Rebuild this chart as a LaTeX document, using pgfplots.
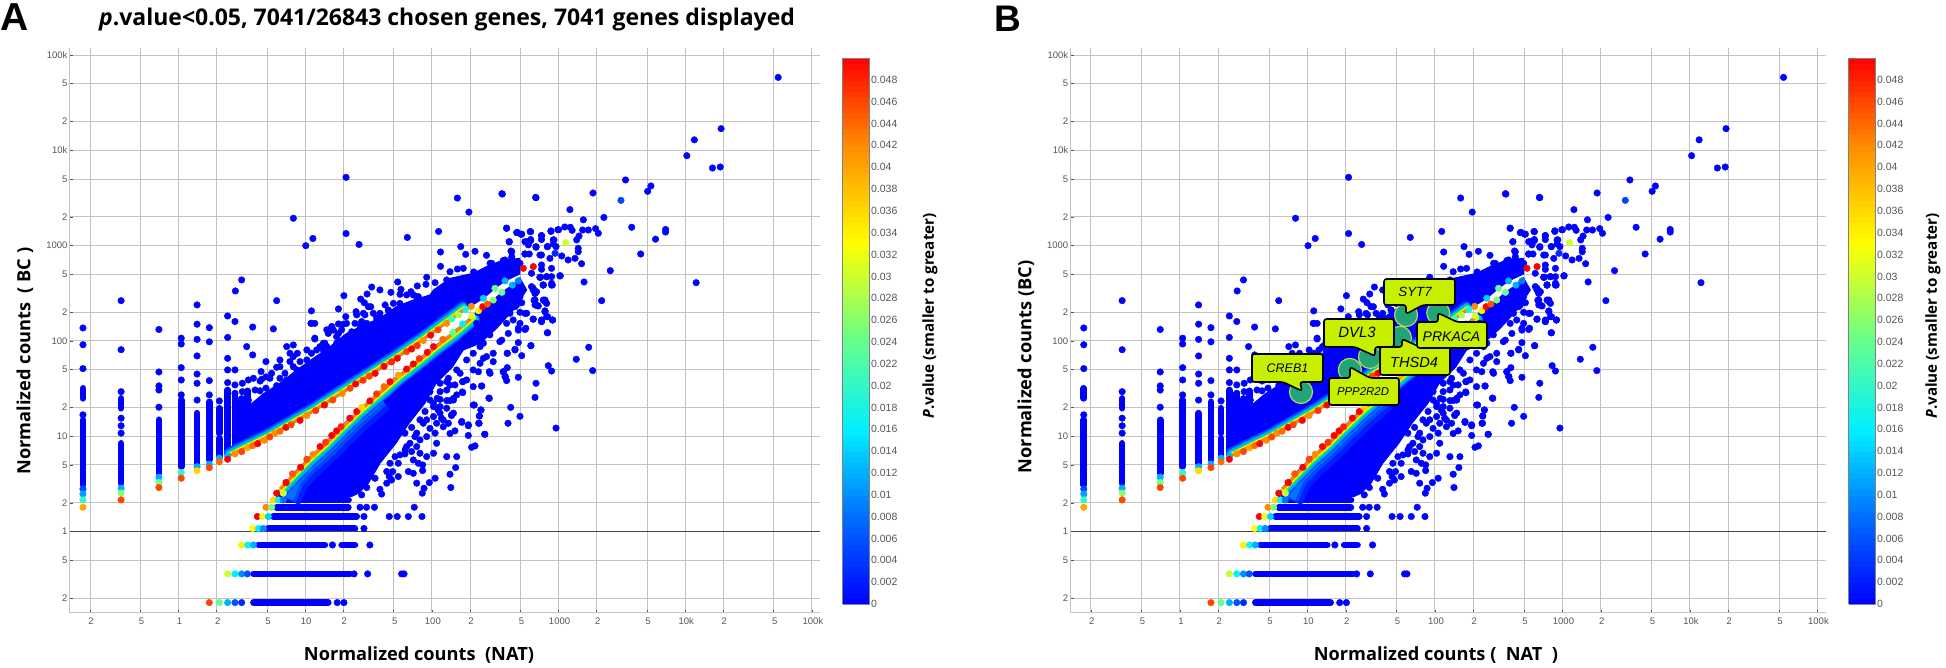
\documentclass[border=0pt]{standalone}
\usepackage{fontspec}
\usepackage{pgfplots}
\usepackage{pgfplotstable}
\pgfplotsset{compat=1.18}
\setmainfont{Liberation Sans}
\newfontfamily\tfont{Open Sans}
\definecolor{gridc}{RGB}{195,195,195}
\definecolor{tickc}{RGB}{85,85,85}
\definecolor{callc}{RGB}{198,240,0}
\definecolor{tealc}{RGB}{32,165,120}
\definecolor{tealb}{RGB}{190,215,80}
\pgfplotstableread{
x y p
54200 58300 0.0003
19200 16900 0.0003
11800 12900 0.0003
10300 8790 0.0003
16400 6530 0.0003
18900 6690 0.0003
3380 4890 0.0003
5360 4230 0.0003
5050 3720 0.0003
1870 3570 0.0003
3110 2990 0.005
664 3190 0.0003
360 3480 0.0003
1230 2390 0.0003
2280 1980 0.0003
1570 1870 0.0003
3780 1560 0.0003
7000 1480 0.0003
7000 1390 0.0003
5830 1170 0.0003
4450 818 0.0003
2560 547 0.0003
12200 409 0.0003
2190 265 0.0003
1590 416 0.0003
389 1520 0.0003
467 1370 0.0003
512 1320 0.0003
602 1400 0.0003
871 1430 0.0003
1000 1470 0.0003
1120 1570 0.0003
1240 1560 0.0003
1280 1450 0.0003
1550 1460 0.0003
1720 1460 0.0003
1960 1510 0.0003
2060 1350 0.0003
1450 1260 0.0003
1390 1150 0.0003
734 1280 0.0003
734 1160 0.0003
602 1160 0.0003
408 1100 0.0003
543 1100 0.0003
577 1020 0.0003
908 1150 0.0003
908 1040 0.0003
664 977 0.0003
1430 938 0.0003
1430 865 0.0003
820 977 0.0003
427 865 0.0003
543 818 0.0003
587 818 0.0003
734 798 0.0003
938 832 0.003
1060 780 0.0003
1190 708 0.0003
1350 736 0.0003
1520 647 0.0003
855 736 0.0003
734 627 0.0003
496 653 0.0003
427 719 0.0003
378 708 0.0003
881 578 0.0003
734 565 0.0003
612 513 0.0003
1030 484 0.0003
881 473 0.0003
721 466 0.0003
757 387 0.0003
893 387 0.0003
631 343 0.0003
652 316 0.0003
496 292 0.0003
512 252 0.0003
643 265 0.0003
782 259 0.0003
692 233 0.0003
782 203 0.0003
820 180 0.0003
897 166 0.0003
734 160 0.0003
631 169 0.0003
543 195 0.0003
481 136 0.0003
552 136 0.0003
820 122 0.0003
605 89.3 0.0003
1730 85.9 0.0003
1380 64.3 0.0003
830 55.1 0.0003
881 48.4 0.0003
1860 48.9 0.0003
664 36 0.0003
652 25.6 0.0003
481 41.6 0.0003
419 20.1 0.0003
496 16.2 0.0003
399 13.7 0.0003
955 12.2 0.0003
394 52.5 0.0003
366 47.6 0.0003
380 42.3 0.0003
389 38.4 0.0003
512 70.1 0.0003
453 80.5 0.0003
394 74.3 0.0003
481 96.2 0.0003
247 33.7 0.0003
282 25.2 0.0003
216 21.3 0.0003
244 18.9 0.0003
237 16.3 0.0003
234 13.7 0.0003
261 10.5 0.0003
194 10.2 0.0003
194 13.2 0.0003
172 14 0.0003
143 16.5 0.0003
139 10.7 0.0003
152 11.4 0.0003
119 15.5 0.0003
112 18.9 0.0003
139 23.7 0.0003
148 25 0.0003
116 24.4 0.0003
174 29.2 0.0003
139 34.5 0.0003
131 37.4 0.0003
175 37.4 0.0003
233 47.6 0.0003
284 47.6 0.0003
366 47.6 0.0003
378 42.3 0.0003
305 60.7 0.0003
255 65.8 0.0003
394 74.3 0.0003
453 81.8 0.0003
344 98.4 0.0003
401 120 0.0003
356 102 0.0003
543 132 0.0003
481 130 0.0003
287 116 0.0003
225 153 0.0003
270 147 0.0003
344 180 0.0003
413 195 0.0003
734 160 0.0003
453 229 0.0003
652 239 0.0003
757 269 0.0003
805 248 0.0003
652 269 0.0003
671 329 0.0003
612 372 0.0003
757 386 0.0003
881 403 0.0003
713 466 0.0003
805 473 0.0003
21 5210 0.0003
159 3160 0.0003
357 3510 0.0003
659 3210 0.0003
196 2250 0.0003
10.1 1000 0.0003
11.5 1190 0.0003
21 1340 0.0003
26.6 1030 0.0003
64 1220 0.0003
113 1410 0.0003
117 858 0.0003
169 977 0.0003
185 811 0.0003
219 873 0.0003
270 792 0.0003
117 607 0.0003
389 1530 0.0003
408 1100 0.0003
472 1380 0.0003
505 1320 0.0003
598 1410 0.0003
734 1270 0.0003
871 1410 0.0003
989 1470 0.0003
560 1100 0.0003
602 1130 0.0003
664 962 0.0003
815 977 0.0003
920 1150 0.0003
955 977 0.0003
421 879 0.0003
543 818 0.0003
713 798 0.0003
366 697 0.0003
427 767 0.0003
288 653 0.0003
344 578 0.0003
1026 481 0.0003
881 386 0.0003
757 387 0.0003
631 357 0.0003
652 316 0.0003
805 473 0.0003
713 466 0.0003
782 269 0.0003
643 269 0.0003
679 235 0.0003
782 207 0.0003
805 180 0.0003
897 166 0.0003
631 170 0.0003
734 166 0.0003
815 122 0.0003
496 304 0.0003
467 239 0.0003
496 200 0.0003
560 195 0.0003
438 166 0.0003
496 153 0.0003
389 153 0.0003
344 173 0.0003
605 89.3 0.0003
33.5 368 0.0003
38.9 343 0.0003
53.7 416 0.0003
57 348 0.0003
47.5 324 0.0003
56 309 0.0003
68.4 329 0.0003
76.7 378 0.0003
91 466 0.0003
89.8 393 0.0003
106 409 0.0003
131 437 0.0003
139 533 0.0003
159 569 0.0003
177 578 0.0003
214 530 0.0003
255 513 0.0003
297 653 0.0003
20.2 299 0.0003
30.8 311 0.0003
27.4 275 0.0003
29.3 252 0.0003
32.9 229 0.0003
18.3 217 0.0003
11.2 207 0.0003
25.2 203 0.0003
20.9 180 0.0003
28.8 195 0.0003
38.5 180 0.0003
11.2 153 0.0003
18.3 151 0.0003
16.7 130 0.0003
20 150 0.0003
27.4 147 0.0003
30.6 153 0.0003
22.6 111 0.0003
17.7 111 0.0003
11.9 107 0.0003
14.3 94.6 0.0003
20 92.3 0.0003
45.3 211 0.0003
56 244 0.0003
68.4 229 0.0003
75.9 292 0.0003
88.3 259 0.0003
8.06 1940 0.0003
3.15 437 0.0003
2.81 335 0.0003
5.95 265 0.0003
3.85 140 0.0003
5.6 134 0.0003
11.1 153 0.0003
11.9 153 0.0003
16.5 131 0.0003
3.45 87.3 0.0003
3.85 71.4 0.0003
5.95 53 0.0003
4.48 47.8 0.0003
4.9 60.8 0.0003
4.53 39.6 0.0003
5.27 40.6 0.0003
3.9 40.6 0.0003
3.56 39 0.0003
3.19 36 0.0003
2.79 34.6 0.0003
2.79 28.2 0.0003
3.19 29.4 0.0003
7.14 87.3 0.0003
8.05 90.8 0.0003
7.58 74.3 0.0003
8.67 74.3 0.0003
11.2 74.3 0.0003
7.58 60.8 0.0003
10.3 63.2 0.0003
11.9 105 0.0003
13.9 94.7 0.0003
14.8 87.3 0.0003
20 94.7 0.0003
22.6 94.7 0.0003
6.32 40.6 0.0003
7.14 39 0.0003
8.58 49.7 0.0003
14.8 131 0.0003
18.3 120 0.0003
21.2 153 0.0003
25.5 188 0.0003
27.9 160 0.0003
31.5 229 0.0003
36.6 173 0.0003
45.3 211 0.0003
56 248 0.0003
78.2 292 0.0003
91 259 0.0003
8.05 68.6 0.0003
10.3 80.5 0.0003
13.9 80.5 0.0003
6.32 53.8 0.0003
5.43 45.8 0.0003
4.02 30.6 0.0003
3.56 24 0.0003
4.4 30 0.0003
4.4 38 0.0003
4.9 32 0.0003
4.9 42 0.0003
5.95 34 0.0003
6.32 63.2 0.0003
6.92 45.8 0.0003
8.05 53.8 0.0003
9.1 60.8 0.0003
10.9 56 0.0003
12.3 80.5 0.0003
13.1 87.3 0.0003
15.2 120 0.0003
16.2 142 0.0003
17.7 94.6 0.0003
19.4 131 0.0003
23.3 125 0.0003
24.7 153 0.0003
27.1 136 0.0003
29.6 188 0.0003
34.5 195 0.0003
38.9 195 0.0003
42.7 239 0.0003
49.7 248 0.0003
63.2 304 0.0003
71.3 304 0.0003
84 2.53 0.0003
86.7 2.85 0.0003
75.9 3.22 0.0003
95.5 3.27 0.0003
106 3.63 0.0003
141 2.9 0.0003
139 4 0.0003
154 4.7 0.0003
131 6.12 0.0003
157 6.12 0.0003
84.5 5.01 0.0003
84.5 4.37 0.0003
91 6.12 0.0003
71.3 5.65 0.0003
61.3 6.53 0.0003
51.2 6.12 0.0003
54.3 5.21 0.0003
49 4.27 0.0003
44 4.27 0.0003
40.1 2.48 0.0003
38.9 2.78 0.0003
35.6 3.63 0.0003
30.6 2.9 0.0003
27.9 2.43 0.0003
46.1 3.78 0.0003
63.2 7.8 0.0003
75.9 7.8 0.0003
75.9 10.8 0.0003
91 9.93 0.0003
106 10.8 0.0003
123 12.6 0.0003
143 16.8 0.0003
172 14.3 0.0003
194 12.9 0.0003
212 21.3 0.0003
244 18.9 0.0003
237 16.4 0.0003
236 13.7 0.0003
262 10.5 0.0003
206 7.67 0.0003
219 7.94 0.0003
284 25 0.0003
247 33.7 0.0003
175 28.7 0.0003
148 24 0.0003
131 23.7 0.0003
175 37.5 0.0003
135 40.6 0.0003
152 34.6 0.0003
110 25 0.0003
116 29.4 0.0003
103 20.5 0.0003
103 16.1 0.0003
123 14.8 0.0003
135 13.7 0.0003
61.3 10.8 0.0003
69.2 12.4 0.0003
80.5 14.9 0.0003
88.3 18.2 0.0003
75.9 22.2 0.0003
96.6 24 0.0003
49.6 9.17 0.0003
52.7 11.2 0.0003
41.4 7.8 0.0003
36.6 5.65 0.0003
46.7 5.21 0.0003
56 6.38 0.0003
67.1 8.45 0.0003
73.5 9.93 0.0003
85.5 13.7 0.0003
103 22.2 0.0003
116 36 0.0003
157 49.7 0.0003
188 63.2 0.0003
212 74.3 0.0003
240 87.3 0.0003
44 3.22 0.0003
32.4 3.78 0.0003
48.1 3.48 0.0003
54.3 3.78 0.0003
65.2 4.27 0.0003
71.3 4.09 0.0003
78.2 5.21 0.0003
61.4 7.2 0.0003
69.2 6.92 0.0003
80.5 6.64 0.0003
103 6.64 0.0003
109 8.45 0.0003
80.5 9.16 0.0003
96.6 12.1 0.0003
109 13.7 0.0003
91 14.9 0.0003
116 17.5 0.0003
131 19.7 0.0003
148 17.5 0.0003
116 20.5 0.0003
96.6 29.4 0.0003
131 30.6 0.0003
157 27.2 0.0003
167 45.8 0.0003
188 39 0.0003
212 49.7 0.0003
212 33.2 0.0003
240 58.3 0.0003
270 68.6 0.0003
288 45.8 0.0003
255 94.7 0.0003
305 74.3 0.0003
0.176 137 0.0003
0.176 91.3 0.0003
0.176 51.3 0.0003
0.176 16.8 0.0003
0.176 2.8 0.005
0.176 2.48 0.011
0.176 2.15 0.02
0.176 1.80 0.04
0.352 265 0.0003
0.352 81 0.0003
0.352 29.4 0.0003
0.352 15.5 0.0003
0.352 12.9 0.0003
0.352 10.8 0.0003
0.352 2.85 0.012
0.352 2.53 0.026
0.352 2.15 0.046
0.70 132 0.0003
0.70 47.3 0.0003
0.70 33.8 0.0003
0.70 30.6 0.0003
0.70 20.2 0.0003
0.70 3.72 0.012
0.70 3.27 0.025
0.70 2.9 0.046
1.05 107 0.0003
1.05 93 0.0003
1.05 52.5 0.0003
1.05 39 0.0003
1.05 27.2 0.0003
1.05 4.16 0.02
1.05 3.63 0.046
1.40 239 0.0003
1.40 150 0.0003
1.40 104 0.0003
1.40 69.7 0.0003
1.40 45 0.0003
1.40 36 0.0003
1.40 24 0.0003
1.40 4.8 0.012
1.40 4.34 0.036
1.75 138 0.0003
1.75 98 0.0003
1.75 38.4 0.0003
1.75 27.2 0.0003
1.75 5.1 0.012
1.75 4.69 0.046
2.1 23.5 0.0003
2.1 5.9 0.012
2.1 5.4 0.044
2.44 183 0.0003
2.44 109 0.0003
2.44 65.8 0.0003
2.44 49.7 0.0003
2.44 36.6 0.0003
2.44 6.2 0.012
2.79 160 0.0003
2.79 49.7 0.0003
1.75 0.18 0.046
2.1 0.18 0.024
2.44 0.18 0.012
2.79 0.18 0.006
3.15 0.18 0.003
17.9 0.18 0.0003
20.2 0.18 0.0003
2.44 0.36 0.03
2.79 0.36 0.016
3.15 0.36 0.01
3.49 0.36 0.006
24.3 0.36 0.0003
31.1 0.36 0.0003
57.7 0.36 0.0003
60.3 0.36 0.0003
3.15 0.724 0.034
3.52 0.724 0.017
3.9 0.724 0.012
16.4 0.724 0.0003
32.4 0.724 0.0003
3.85 1.08 0.033
4.27 1.08 0.016
4.67 1.08 0.01
29.1 1.08 0.0003
4.19 1.44 0.05
4.61 1.44 0.032
5.12 1.44 0.014
29.1 1.44 0.0003
46.1 1.44 0.0003
53.3 1.44 0.0003
65.2 1.44 0.0003
83.5 1.44 0.0003
4.9 1.80 0.042
5.43 1.80 0.025
27.1 1.80 0.0003
30.5 1.80 0.0003
35.2 1.80 0.0003
72.6 1.80 0.0003
5.6 2.15 0.036
6.14 2.15 0.017
6.71 2.15 0.008
7.06 3.27 0.05
7.96 4.03 0.045
6.71 2.53 0.03
}\tblOut
\pgfplotstableread{
x y p
2.44 5.74 0.05
2.79 6.53 0.042
3.15 6.91 0.046
3.52 7.6 0.04
3.85 7.98 0.044
4.22 8.38 0.05
4.76 9.08 0.042
5.25 9.84 0.046
5.78 10.8 0.042
6.32 11.3 0.044
7.05 12.4 0.05
7.73 13.2 0.046
9.1 14.7 0.05
10.3 16.5 0.042
12.1 18.6 0.047
14.2 21.3 0.05
16.5 24 0.046
19.6 28 0.042
22.6 31.9 0.046
25 35.4 0.05
28.6 38.7 0.047
32.1 42.7 0.046
35.7 45.8 0.05
41.9 54.2 0.05
48.1 60.3 0.048
53.3 65.8 0.05
63.2 77.3 0.046
69.2 82.4 0.05
76.7 89.3 0.047
85.6 101 0.042
97.7 115 0.05
112 131 0.046
131 153 0.042
143 170 0.022
162 187 0.028
185 215 0.018
205 231 0.042
255 281 0.014
315 357 0.024
378 427 0.012
527 579 0.05
632 603 0.05
1138 1076 0.03
7.06 3.27 0.05
7.96 4.03 0.045
9.2 4.73 0.05
10.3 5.74 0.046
11.5 6.47 0.042
13.1 7.8 0.05
14.5 8.65 0.047
16.2 10.2 0.05
17.7 11.4 0.05
19.2 12.6 0.048
22.5 15.5 0.05
25.5 18.2 0.05
27.9 20.1 0.036
32.4 23.5 0.05
36.6 27.8 0.047
41.9 33.2 0.044
46.7 37.4 0.05
54.3 44 0.04
63.2 50.8 0.05
71.3 57.4 0.05
79.6 65.3 0.047
92 76 0.05
103 87.3 0.05
122 104 0.044
146 123 0.024
175 151 0.016
207 183 0.03
233 208 0.034
252 229 0.05
274 244 0.045
305 269 0.026
357 324 0.024
432 386 0.012
481 427 0.009
5.95 2.53 0.05
}\tblBand
\pgfplotsset{
 /pgfplots/mySeg/.style={blue,line width=6.6pt,line cap=round,forget plot},
 /pgfplots/myPanel/.style={
  scale only axis, height=565pt,
  xmin=0.139, ymin=0.14, ymax=118600,
  axis x line*=bottom, axis y line*=left,
  axis line style={gridc,line width=1pt,-},
  xtick={0.2,0.5,1,2,5,10,20,50,100,200,500,1000,2000,5000,10000,20000,50000,100000},
  xticklabels={2,5,1,2,5,10,2,5,100,2,5,1000,2,5,10k,2,5,100k},
  ytick={0.2,0.5,1,2,5,10,20,50,100,200,500,1000,2000,5000,10000,20000,50000,100000},
  yticklabels={2,5,1,2,5,10,2,5,100,2,5,1000,2,5,10k,2,5,100k},
  xminorticks=false, yminorticks=false,
  major tick length=3pt,
  tick style={tickc,line width=0.6pt},
  xmajorgrids, ymajorgrids,
  grid style={gridc,line width=1pt},
  tick label style={font=\fontsize{9.5}{12}\selectfont,text=tickc},
  xticklabel style={yshift=-1pt,xshift=1pt},
  yticklabel style={xshift=1pt},
  point meta min=0, point meta max=0.05,
  colorbar sampled,
  colorbar style={
    samples=101,
    at={(parent axis.south east)},anchor=south west,xshift=14pt,yshift=9pt,
    scale only axis,width=27pt,height=546pt,
    axis line style={gray,line width=0.8pt},
    scaled y ticks=false,
    ytick={0,0.002,0.004,0.006,0.008,0.01,0.012,0.014,0.016,0.018,0.02,0.022,0.024,0.026,0.028,0.03,0.032,0.034,0.036,0.038,0.04,0.042,0.044,0.046,0.048},
    yticklabels={0,0.002,0.004,0.006,0.008,0.01,0.012,0.014,0.016,0.018,0.02,0.022,0.024,0.026,0.028,0.03,0.032,0.034,0.036,0.038,0.04,0.042,0.044,0.046,0.048},
    major tick length=0pt,
    yticklabel style={font=\fontsize{10.5}{12}\selectfont,text=tickc,xshift=-2pt},
  },
 },
}
\pgfplotsset{
 colormap={pv}{rgb255(0pt)=(0,0,255); rgb255(8pt)=(0,110,255); rgb255(16pt)=(0,240,255); rgb255(24pt)=(100,255,140); rgb255(33pt)=(255,255,0); rgb255(42pt)=(255,140,0); rgb255(50pt)=(255,0,0)}
}
\newcommand\seg[4]{\addplot[mySeg] coordinates {(#1,#2)(#3,#4)};}
\newcommand\ustroke[2]{\addplot[#1,line width=#2pt,line cap=round,xshift=-0.3*#2pt,yshift=0.4*#2pt,forget plot] coordinates {(2.6,6.2)(3.52,7.6)(5.25,9.84)(7.73,13.2)(12.1,18.6)(19.6,28)(32.1,42.7)(53.3,65.8)(84.5,100)(123,144)(185,215)};}
\newcommand\lstroke[2]{\addplot[#1,line width=#2pt,line cap=round,xshift=0.33*#2pt,yshift=-0.37*#2pt,forget plot] coordinates {(6.3,2.9)(7.96,4.03)(10.3,5.74)(14.5,8.65)(17.7,11.4)(25.5,18.2)(36.6,27.8)(54.3,44)(79.6,65.3)(104,87.3)(146,123)(207,183)};}
\newcommand\lstrokew[2]{\addplot[#1,line width=#2pt,line cap=butt,xshift=0.33*#2pt,yshift=-0.37*#2pt,forget plot] coordinates {(6.8,2.5)(7.96,4.03)(10.3,5.74)(14.5,8.65)(17.7,11.4)(25.5,18.2)(36.6,27.8)};}
\newcommand\drawdata{%
 \addplot[fill=blue,draw=blue,line width=1pt,forget plot] coordinates {
  (2.79,6.92)(2.79,13)(3.1,18)(3.45,20)(4.68,28)(6.32,36)(8.57,49.7)(11.6,65.9)(15.7,87.3)(21.2,120)(28.8,147)(38.9,173)(52.7,230)(71.3,269)(96.6,304)(103,343)(139,454)(212,513)(270,603)(366,708)(496,736)(495,505)(378,427)(315,357)(255,281)(185,215)(123,144)(84.5,100)(53.3,65.8)(32.1,42.7)(19.6,28)(12.1,18.6)(7.73,13.2)(5.25,9.84)(3.52,7.6)} --cycle;
 \addplot[fill=blue,draw=blue,line width=1pt,forget plot] coordinates {
  (5.95,2.34)(23.3,2.34)(26.2,2.52)(31.5,3.22)(38.9,5.21)(52,8.45)(66,13.7)(88,22.2)(108,36)(146,53.8)(177,80.5)(240,94.6)(325,136)(440,212)(560,343)(495,460)(432,386)(357,324)(305,269)(233,208)(146,123)(104,87.3)(79.6,65.3)(54.3,44)(36.6,27.8)(25.5,18.2)(17.7,11.4)(14.5,8.65)(10.3,5.74)(7.96,4.03)(5.95,2.53)} --cycle;
 \seg{3.9}{0.18}{15.2}{0.18}
 \seg{3.9}{0.36}{22.6}{0.36}
 \seg{4.27}{0.724}{14.3}{0.724}
 \seg{19.4}{0.724}{24.7}{0.724}
 \seg{5.1}{1.08}{24.7}{1.08}
 \seg{5.6}{1.44}{25.5}{1.44}
 \seg{5.95}{1.8}{21.9}{1.8}
 \seg{6.14}{2.15}{22}{2.15}
 \seg{0.176}{3.09}{0.176}{14.9}
 \seg{0.176}{25}{0.176}{31.9}
 \seg{0.352}{3.2}{0.352}{8.45}
 \seg{0.352}{19.7}{0.352}{25}
 \seg{0.7}{4.09}{0.7}{14.9}
 \seg{1.05}{4.81}{1.05}{24}
 \seg{1.4}{5.21}{1.4}{17.5}
 \seg{1.75}{5.65}{1.75}{23}
 \seg{2.1}{6.1}{2.1}{9.5}
 \seg{2.1}{10.8}{2.1}{19.7}
 \seg{2.44}{6.64}{2.44}{30.6}
 \seg{2.79}{8}{2.79}{28.2}
 \seg{3.15}{8}{3.15}{25}
 \seg{3.52}{14}{3.52}{30}
 \addplot[draw={rgb,255:red,70;green,70;blue,70},line width=1pt,forget plot] coordinates {(0.139,1)(120000,1)};
 \addplot[scatter,only marks,mark=*,mark size=3.3pt,scatter src=explicit,scatter/use mapped color={draw=mapped color,fill=mapped color},forget plot] table[x=x,y=y,meta=p]{\tblOut};
 \lstrokew{blue!88!cyan}{20}
 \lstrokew{blue!72!cyan}{15}
 \lstrokew{blue!55!cyan}{11.5}
 \lstroke{blue!70!cyan}{10}
 \lstroke{blue!35!cyan}{8.5}
 \lstroke{cyan}{7.2}
 \lstroke{green!70!cyan}{6}
 \lstroke{yellow}{4.5}
 \lstroke{orange}{3}
 \ustroke{blue!70!cyan}{9}
 \ustroke{blue!35!cyan}{7}
 \ustroke{cyan}{5.8}
 \ustroke{green!70!cyan}{4.8}
 \ustroke{yellow}{3.8}
 \ustroke{orange}{2.5}
 \addplot[scatter,only marks,mark=*,mark size=3.3pt,scatter src=explicit,scatter/use mapped color={draw=mapped color,fill=mapped color},forget plot] table[x=x,y=y,meta=p]{\tblBand};
}
\begin{document}
\begin{tikzpicture}[x=1pt,y=1pt]
\path[use as bounding box] (0,0) rectangle (1946,668);
\begin{loglogaxis}[myPanel,at={(70pt,55pt)},anchor=south west,width=750pt,xmax=115900]
\drawdata
\end{loglogaxis}
\begin{loglogaxis}[myPanel,at={(1070.7pt,55pt)},anchor=south west,width=755.3pt,xmax=116700]
\drawdata
\addplot[only marks,mark=*,mark size=11.5pt,mark options={fill=tealc,draw=tealb,line width=1.2pt},forget plot] coordinates {(8.9,29.2)(21.5,49.7)(30.9,68)(53.1,108)(59.3,187)(106,197)};
\end{loglogaxis}
\begin{scope}[x=1pt,y=-1pt,shift={(0pt,668pt)}]
\tikzset{call/.style={draw=black,fill=callc,line width=1.6pt,rounded corners=2.5pt},
 cl/.style={font=\itshape\fontsize{#1}{14}\selectfont,inner sep=0pt}}
\node[font=\bfseries\fontsize{39}{40}\selectfont] at (15,17) {A};
\node[font=\bfseries\fontsize{37}{40}\selectfont] at (1008,19) {B};
\node[font=\tfont\bfseries\fontsize{23}{26}\selectfont] at (447,20) {\textit{p}.value<0.05, 7041/26843 chosen genes, 7041 genes displayed};
\node[rotate=90,font=\tfont\bfseries\fontsize{18.2}{20}\selectfont] at (25,361) {Normalized counts\ \ ( BC )};
\node[font=\tfont\bfseries\fontsize{18.2}{20}\selectfont] at (419,655) {Normalized counts\ \ (NAT)};
\node[rotate=90,font=\tfont\bfseries\fontsize{18.2}{20}\selectfont] at (1026,367) {Normalized counts (BC)};
\node[font=\tfont\bfseries\fontsize{18.2}{20}\selectfont] at (1436,655) {Normalized counts (\ \ NAT\ \ )};
\node[rotate=90,font=\tfont\bfseries\fontsize{15.2}{18}\selectfont] at (930,316) {\textit{P}.value (smaller to greater)};
\node[rotate=90,font=\tfont\bfseries\fontsize{15.2}{18}\selectfont] at (1933,316) {\textit{P}.value (smaller to greater)};
\draw[call] (1252,354)--(1323,354)--(1323,382)--(1300,382)--(1302,391)--(1283,382)--(1252,382)--cycle;
\node[cl=12.5] at (1287.5,368) {CREB1};
\draw[call] (1329,378)--(1350,378)--(1350,367)--(1370,378)--(1399,378)--(1399,405)--(1329,405)--cycle;
\node[cl=11.4] at (1363,391.5) {PPP2R2D};
\draw[call] (1324,319)--(1394,319)--(1394,347)--(1375,347)--(1375,356)--(1355,347)--(1324,347)--cycle;
\node[cl=14.9] at (1357,332) {DVL3};
\draw[call] (1380,347)--(1402,347)--(1402,339)--(1420,347)--(1450,347)--(1450,375)--(1380,375)--cycle;
\node[cl=14.6] at (1414,362) {THSD4};
\draw[call] (1384,279)--(1455,279)--(1455,305)--(1423,305)--(1406,314)--(1406,305)--(1384,305)--cycle;
\node[cl=13.3] at (1415,292) {SYT7};
\draw[call] (1417,322)--(1438,322)--(1438,313)--(1457,322)--(1487,322)--(1487,348)--(1417,348)--cycle;
\node[cl=14] at (1451.5,337) {PRKACA};
\end{scope}
\end{tikzpicture}
\end{document}
